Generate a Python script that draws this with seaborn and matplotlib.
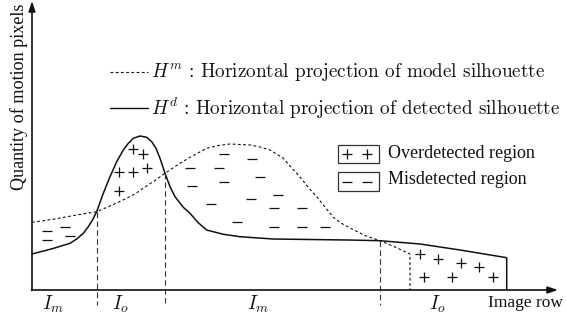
import matplotlib
matplotlib.use("Agg")
import matplotlib.pyplot as plt
from matplotlib.patches import Rectangle
import seaborn as sns

# ---- data (x = image row, y = quantity of motion pixels) ----
hd_x = [0, 21, 38, 44.7, 51.3, 56.3, 60.5, 64.7, 71.3, 78, 84.7, 91.3, 96.3, 101.3, 108,
        114.7, 119.7, 124, 128, 133, 138, 143, 151.3, 158, 166, 174.7, 191.3, 208, 241,
        278, 316, 348, 388, 428, 474.7, 474.7]
hd_y = [36, 41.5, 46.7, 51, 56.7, 63.3, 70, 78.3, 96.7, 113.3, 128.3, 140, 146.7, 151.7, 154,
        152.7, 148.3, 141.7, 131.7, 116.7, 103.3, 93.3, 82.7, 76.7, 67.5, 60, 55.7, 53.3, 51,
        50.5, 50, 49.3, 46, 40, 32.3, 0]

hm_x = [0, 21.3, 44.7, 64.7, 78, 91, 103, 113, 123, 133, 148, 158, 174.7, 186, 198,
        218, 228, 238, 251, 258, 268, 276, 285, 293, 301, 309, 318, 333, 348, 363, 378, 378]
hm_y = [67.7, 70.7, 75, 78.3, 84, 90, 96, 103, 109.5, 116.7, 126.7, 132.7, 141.7, 144.5, 146,
        145, 143, 140, 132, 124, 113, 103, 93, 83, 73, 67, 62, 54.5, 49.3, 43, 36, 0]

plus_x = [100.7, 110.7, 87.3, 100.7, 114.7, 87.3, 388, 406.3, 429, 447, 392, 419.7, 460.7]
plus_y = [140.7, 135.7, 117.7, 117.7, 121.7, 99.3, 35.7, 31, 27.3, 22.7, 13.3, 13.3, 13.3]

minus_x = [14.7, 33, 14.7, 38, 158, 187.3, 192.3, 219.7, 192, 228, 159.7, 246.3, 219,
           178.7, 242, 269.7, 205.3, 242, 269.7, 293]
minus_y = [59, 63.3, 50, 54, 122.3, 122.3, 135.7, 131, 108.3, 113, 104.3, 95.5, 90.7,
           86, 81.7, 81.7, 68.3, 63, 63, 63]

# interval boundaries (x) and the curve heights there
bound_x = [64.7, 133, 348]
bound_top = [78.3, 116.7, 49.3]

interval_labels = [r"$I_m$", r"$I_o$", r"$I_m$", r"$I_o$"]
interval_x = [21, 88, 226, 405]

legend_texts = [r"$H^m$ : Horizontal projection of model silhouette",
                r"$H^d$ : Horizontal projection of detected silhouette"]
region_texts = ["Overdetected region", "Misdetected region"]

# ---- figure ----
sns.set_style("white")
plt.rcParams["mathtext.fontset"] = "cm"
plt.rcParams["axes.unicode_minus"] = False

fig = plt.figure(figsize=(5.66, 3.2), dpi=100)
ax = fig.add_axes([0, 0, 1, 1])
ax.set_xlim(-32, 534)
ax.set_ylim(-30, 290)
ax.axis("off")

K = "#111111"

# curves
sns.lineplot(x=hm_x, y=hm_y, sort=False, estimator=None, ax=ax, color=K,
             linewidth=0.8)
ax.lines[-1].set_dashes((2.5, 2.2))
sns.lineplot(x=hd_x, y=hd_y, sort=False, estimator=None, ax=ax, color=K,
             linewidth=1.1)
for ln in ax.lines:
    ln.set_solid_joinstyle("round")
    ln.set_dash_joinstyle("round")

# drop lines
for bx, bt in zip(bound_x, bound_top):
    ax.plot([bx, bx], [bt, -15], color="#333333", linewidth=0.8, dashes=(5, 3))

# markers
sns.scatterplot(x=plus_x, y=plus_y, marker="+", s=55, color=K, linewidth=0.9, ax=ax)
sns.scatterplot(x=minus_x, y=minus_y, marker="_", s=60, color=K, linewidth=0.9, ax=ax)

# axes arrows
ax.annotate("", xy=(0, 289), xytext=(0, -0.5),
            arrowprops=dict(arrowstyle="-|>,head_length=0.6,head_width=0.2",
                            color=K, lw=1.2, shrinkA=0, shrinkB=0))
ax.annotate("", xy=(526, 0), xytext=(-0.5, 0),
            arrowprops=dict(arrowstyle="-|>,head_length=0.6,head_width=0.2",
                            color=K, lw=1.2, shrinkA=0, shrinkB=0))

# axis labels
ax.text(-12.5, 193.5, "Quantity of motion pixels", rotation=90, ha="center", va="center",
        fontsize=13.1, family="Liberation Serif", color=K)
ax.text(456, -13, "Image row", ha="left", va="center", fontsize=12.5,
        family="Liberation Serif", color=K)

for lab, lx in zip(interval_labels, interval_x):
    ax.text(lx, -14, lab, ha="center", va="center", fontsize=14, color=K)

# line legend
ax.plot([78, 116], [218.3, 218.3], color=K, linewidth=0.8, dashes=(2.5, 2.2))
ax.plot([78, 116], [181.7, 181.7], color=K, linewidth=1.0)
ax.text(119, 218.3, legend_texts[0], ha="left", va="center", fontsize=13.8,
        family="cmr10", color=K)
ax.text(119, 181.7, legend_texts[1], ha="left", va="center", fontsize=13.8,
        family="cmr10", color=K)

# region legend
ax.add_patch(Rectangle((306, 126.7), 41.3, 18.3, fill=False, edgecolor="#333333", lw=0.9))
ax.add_patch(Rectangle((306, 99.3), 41.3, 18.3, fill=False, edgecolor="#333333", lw=0.9))
sns.scatterplot(x=[315.3, 334.7], y=[135.8, 135.8], marker="+", s=55, color=K,
                linewidth=0.9, ax=ax)
sns.scatterplot(x=[315.3, 334.7], y=[108.4, 108.4], marker="_", s=55, color=K,
                linewidth=0.9, ax=ax)
ax.text(356, 137, region_texts[0], ha="left", va="center", fontsize=13,
        family="Liberation Serif", color=K)
ax.text(356, 110, region_texts[1], ha="left", va="center", fontsize=13,
        family="Liberation Serif", color=K)

fig.savefig("out.png", dpi=100)
